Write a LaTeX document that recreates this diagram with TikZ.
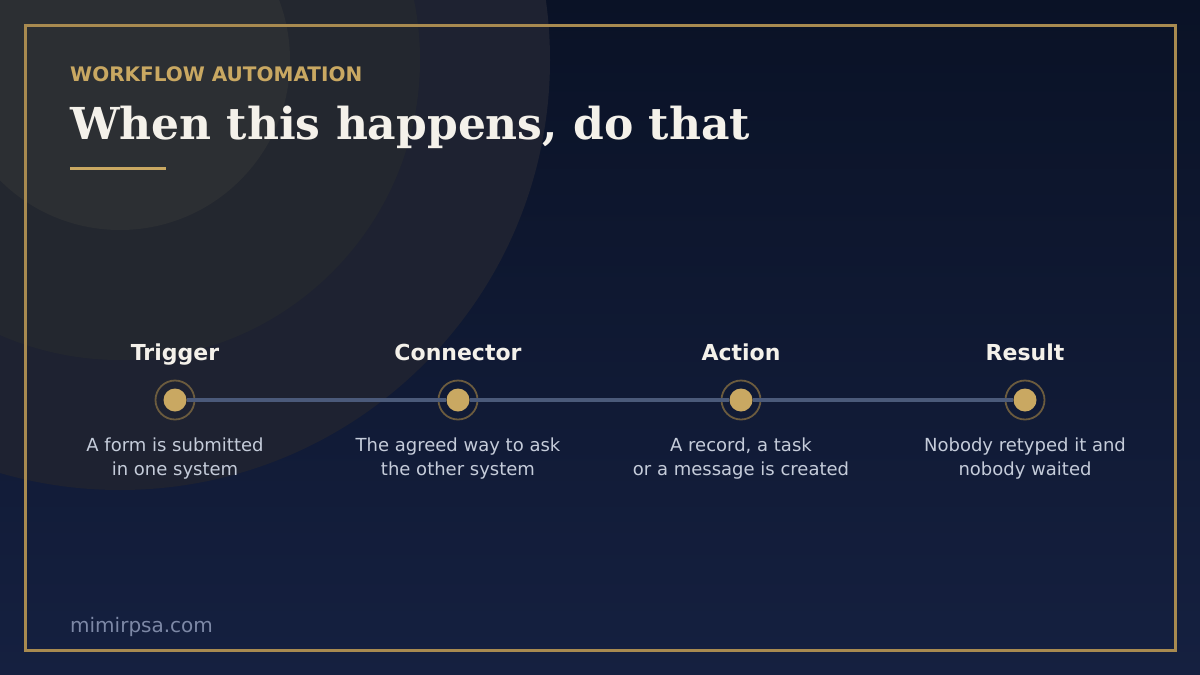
\documentclass[tikz,border=0pt]{standalone}
\usepackage{fontspec}
\setmainfont{DejaVu Sans}
\newfontfamily\titlefont{DejaVu Serif}
\usetikzlibrary{positioning}
\definecolor{navytop}{HTML}{0A1226}
\definecolor{navybot}{HTML}{152040}
\definecolor{ringouter}{HTML}{1E2231}
\definecolor{ringmid}{HTML}{23272F}
\definecolor{ringinner}{HTML}{2C2F33}
\definecolor{gold}{HTML}{C9A862}
\definecolor{framegold}{HTML}{A88A50}
\definecolor{halo}{HTML}{6B5B3E}
\definecolor{trackblue}{HTML}{4B5A7A}
\definecolor{cream}{HTML}{F4F1EA}
\definecolor{desc}{HTML}{C5CCDA}
\definecolor{muted}{HTML}{7D88A6}

\begin{document}
\begin{tikzpicture}[x=1pt, y=-1pt,
    stage/.style={anchor=base, inner sep=0pt, text=cream, font=\bfseries\fontsize{22}{26}\selectfont},
    dot/.style={circle, fill=gold, minimum size=23pt, inner sep=0pt},
    halo/.style={circle, draw=halo, line width=1.8pt, minimum size=39pt, inner sep=0pt},
    note/.style={anchor=north, inner sep=0pt, align=center, text=desc, font=\fontsize{18}{24}\selectfont},
    track/.style={draw=trackblue, line width=3.4pt}
]
    % background and decorative circles
    \clip (0,0) rectangle (1200,675);
    \shade[top color=navytop, bottom color=navybot] (0,0) rectangle (1200,675);
    \fill[ringouter] (120,60) circle (430);
    \fill[ringmid] (120,60) circle (300);
    \fill[ringinner] (120,60) circle (170);
    \draw[framegold, line width=3pt] (25,25) rectangle (1175,650);

    % heading
    \node[anchor=base west, inner sep=0pt, text=gold, font=\bfseries\fontsize{20}{24}\selectfont] (kicker) at (70,81) {WORKFLOW AUTOMATION};
    \node[anchor=base west, inner sep=0pt, text=cream, font=\titlefont\bfseries\fontsize{44}{50}\selectfont] (title) at (70,139) {When this happens, do that};
    \draw[gold, line width=3pt] (70,168) -- (166,168);

    % stages
    \node[halo] (h1) at (175,400) {};
    \node[halo] (h2) at (458,400) {};
    \node[halo] (h3) at (741,400) {};
    \node[halo] (h4) at (1025,400) {};
    \node[dot] (d1) at (175,400) {};
    \node[dot] (d2) at (458,400) {};
    \node[dot] (d3) at (741,400) {};
    \node[dot] (d4) at (1025,400) {};

    \draw[track] (d1) -- (d2);
    \draw[track] (d2) -- (d3);
    \draw[track] (d3) -- (d4);

    \node[stage] (t1) at (175,360) {Trigger};
    \node[stage] (t2) at (458,360) {Connector};
    \node[stage] (t3) at (741,360) {Action};
    \node[stage] (t4) at (1025,360) {Result};

    \node[note] (n1) at (175,437.5) {A form is submitted\\in one system};
    \node[note] (n2) at (458,437.5) {The agreed way to ask\\the other system};
    \node[note] (n3) at (741,437.5) {A record, a task\\or a message is created};
    \node[note] (n4) at (1025,437.5) {Nobody retyped it and\\nobody waited};

    % footer
    \node[anchor=base west, inner sep=0pt, text=muted, font=\fontsize{20}{24}\selectfont] (site) at (70,632) {mimirpsa.com};
\end{tikzpicture}
\end{document}
